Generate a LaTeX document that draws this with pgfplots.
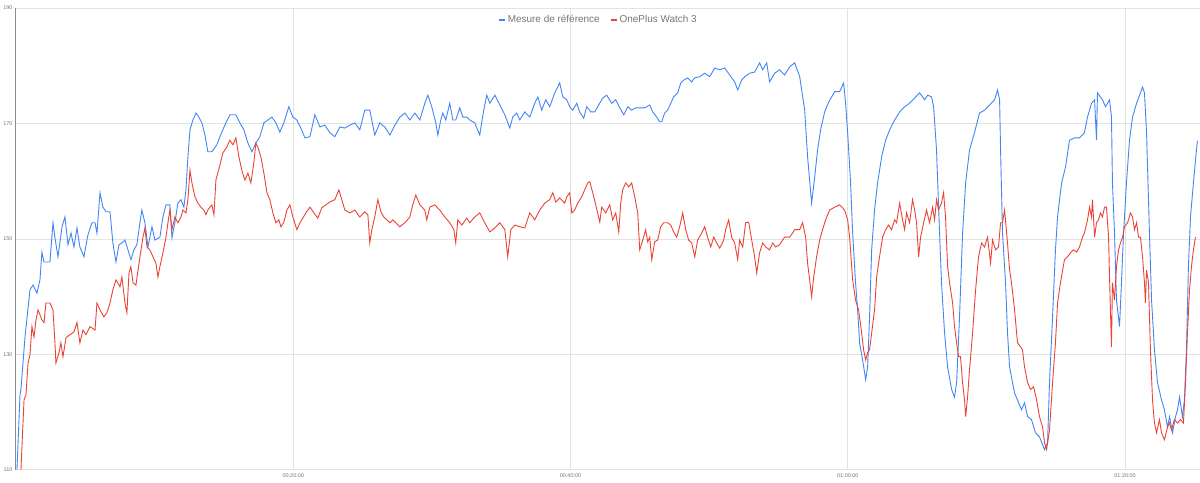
\documentclass[border=0pt]{standalone}
\usepackage{pgfplots}
\usepackage{pgfplotstable}
\pgfplotsset{compat=1.18}
\usepackage{fontspec}
\setmainfont{Liberation Sans}

\definecolor{refblue}{HTML}{4285F4}
\definecolor{watchred}{HTML}{EA4335}
\definecolor{gridgray}{HTML}{E3E3E3}
\definecolor{labelgray}{HTML}{757575}
\definecolor{axisgray}{HTML}{8C8C8C}

% time in minutes, heart rate in bpm
\pgfplotstableread{
t bpm
0.07 110.0
0.29 123.0
0.36 124.0
0.65 133.0
1.01 141.2
1.23 142.0
1.51 140.6
1.73 142.9
1.87 147.7
2.02 146.0
2.45 146.0
2.67 152.8
2.81 150.2
3.03 146.9
3.32 152.1
3.53 153.8
3.75 149.0
3.97 151.0
4.18 148.6
4.40 151.9
4.61 148.6
4.90 146.9
5.19 150.7
5.48 152.8
5.70 152.8
5.84 151.0
6.06 158.0
6.27 155.5
6.49 154.7
6.78 154.7
6.99 149.3
7.21 146.0
7.43 149.0
7.64 149.3
7.86 149.8
8.08 148.1
8.29 146.4
8.51 148.1
8.72 149.0
8.94 152.8
9.08 155.0
9.30 152.8
9.52 148.6
9.81 152.1
10.02 149.8
10.38 150.3
10.60 153.8
10.82 155.9
11.10 155.9
11.25 150.2
11.46 152.8
11.68 156.2
11.90 156.8
12.11 155.5
12.26 158.5
12.40 164.2
12.55 168.9
12.76 170.6
12.98 171.8
13.19 171.1
13.41 170.1
13.63 168.0
13.84 165.1
14.13 165.1
14.49 166.3
14.71 167.7
14.92 168.9
15.14 170.1
15.43 171.5
15.86 171.5
16.15 170.1
16.44 168.9
16.73 166.6
17.02 165.1
17.30 166.6
17.59 167.7
17.88 170.1
18.17 170.6
18.46 171.1
18.75 170.1
19.03 168.5
19.32 170.1
19.68 172.9
19.97 171.1
20.26 170.6
20.55 169.2
20.84 167.5
21.20 167.7
21.56 171.5
21.92 169.4
22.28 169.7
22.64 168.4
23.00 167.7
23.36 169.4
23.72 169.2
24.08 169.7
24.44 170.1
24.80 168.9
25.16 172.3
25.52 172.3
25.88 168.0
26.24 170.1
26.60 169.4
26.97 168.0
27.33 169.7
27.69 171.1
28.05 171.8
28.41 170.6
28.77 171.8
29.13 170.6
29.49 173.5
29.71 174.9
29.99 172.9
30.28 170.1
30.43 168.0
30.64 170.6
30.79 171.8
31.00 170.6
31.29 173.5
31.51 170.6
31.72 170.6
32.01 172.7
32.23 171.1
32.52 171.1
32.73 170.6
33.09 170.1
33.45 168.0
33.74 172.3
33.96 174.9
34.18 173.5
34.54 174.9
34.90 173.2
35.26 171.5
35.62 169.2
35.83 171.1
36.12 171.8
36.34 170.6
36.70 172.0
37.06 171.1
37.42 173.5
37.64 174.6
37.92 172.3
38.21 174.1
38.50 172.9
38.86 175.3
39.22 177.0
39.44 174.6
39.73 174.1
39.94 172.9
40.16 172.3
40.45 173.5
40.66 172.0
40.95 170.9
41.17 172.9
41.46 172.0
41.75 172.0
42.03 173.2
42.32 174.4
42.61 174.9
42.97 173.5
43.26 174.1
43.55 172.7
43.84 171.5
44.13 172.9
44.41 172.3
44.70 172.7
44.99 172.7
45.35 172.7
45.71 173.2
45.93 172.0
46.22 171.1
46.43 170.3
46.58 170.3
46.79 171.8
47.01 172.3
47.23 173.5
47.44 174.6
47.73 175.3
47.95 177.0
48.16 177.5
48.45 177.9
48.74 177.2
48.96 177.9
49.32 178.1
49.68 178.7
50.04 178.1
50.40 179.6
50.76 179.3
51.12 179.6
51.48 178.4
51.84 177.2
52.06 175.8
52.34 177.5
52.56 178.1
52.92 178.7
53.28 178.9
53.64 180.5
53.86 179.3
54.15 180.5
54.36 177.2
54.72 178.7
55.08 179.3
55.44 178.4
55.81 179.8
56.17 180.5
56.53 178.1
56.89 172.3
57.10 164.2
57.39 156.2
57.61 160.7
57.82 165.4
58.04 168.9
58.33 172.0
58.62 173.7
59.05 175.5
59.41 175.5
59.70 177.0
59.84 173.5
59.99 168.4
60.20 159.7
60.35 151.0
60.56 142.4
60.71 137.7
60.85 132.0
61.07 129.0
61.29 125.6
61.43 127.8
61.57 136.5
61.72 148.1
61.93 155.0
62.15 159.7
62.44 164.2
62.73 167.1
63.02 168.9
63.38 170.6
63.74 172.0
64.10 172.9
64.46 173.5
64.82 174.4
65.18 175.3
65.54 174.1
65.76 174.9
66.04 174.6
66.19 172.9
66.40 165.4
66.62 151.0
66.76 142.4
66.98 133.7
67.20 127.8
67.49 123.9
67.70 122.6
67.85 125.1
68.06 136.5
68.28 151.0
68.50 159.7
68.78 165.4
69.14 168.4
69.50 171.8
69.86 172.3
70.23 173.2
70.59 174.1
70.80 175.8
70.95 174.1
71.02 165.4
71.16 151.0
71.38 142.4
71.52 133.7
71.67 127.8
72.03 123.3
72.24 122.1
72.53 120.4
72.75 121.6
72.97 119.2
73.25 118.7
73.54 116.4
73.83 115.7
74.19 113.5
74.41 114.7
74.55 125.1
74.77 136.5
74.98 148.1
75.13 153.8
75.42 159.7
75.71 162.5
75.99 167.1
76.35 167.5
76.71 167.5
77.07 168.4
77.29 171.1
77.58 173.5
77.80 174.1
77.94 167.1
78.01 175.3
78.37 174.1
78.59 172.9
78.88 174.1
79.02 171.1
79.09 159.7
79.24 151.0
79.38 139.4
79.60 134.8
79.74 142.4
79.89 151.0
80.10 159.7
80.32 167.1
80.54 171.1
80.83 173.5
81.11 175.3
81.26 176.3
81.40 175.3
81.55 168.4
81.76 151.0
81.91 139.4
82.12 130.8
82.34 125.1
82.63 122.1
82.84 120.4
83.06 117.4
83.21 119.2
83.42 116.4
83.64 119.2
83.78 120.4
83.93 122.6
84.14 119.2
84.28 122.1
84.43 130.8
84.57 145.2
84.72 153.8
84.93 159.7
85.15 165.4
85.22 167.0
}\reference

\pgfplotstableread{
t bpm
0.36 110.0
0.43 114.0
0.58 122.1
0.72 123.0
0.87 128.5
1.01 129.9
1.15 134.8
1.30 133.0
1.44 136.0
1.59 137.7
1.87 136.0
2.02 135.5
2.16 138.9
2.45 138.9
2.67 137.7
2.81 132.0
2.88 128.5
3.10 130.3
3.24 132.0
3.39 129.6
3.61 132.9
3.89 133.4
4.18 133.9
4.40 135.5
4.61 132.0
4.83 134.2
5.05 133.4
5.34 134.8
5.70 134.2
5.84 138.9
6.06 137.7
6.34 136.5
6.56 137.2
6.78 138.9
6.99 141.2
7.21 142.9
7.50 141.7
7.64 143.4
7.86 138.9
8.00 137.2
8.15 144.1
8.29 145.2
8.44 142.4
8.65 142.0
8.94 146.9
9.16 150.3
9.30 151.9
9.45 148.6
9.66 148.1
9.88 146.9
10.09 145.8
10.24 143.4
10.38 145.2
10.60 147.6
10.82 150.3
10.96 152.8
11.10 155.0
11.25 151.6
11.46 153.8
11.68 152.8
11.90 153.8
12.04 155.0
12.26 154.5
12.40 156.8
12.55 161.9
12.69 159.7
12.91 157.3
13.12 156.2
13.34 155.5
13.55 155.0
13.70 154.2
13.84 155.0
13.99 155.5
14.13 155.9
14.28 154.2
14.42 160.2
14.71 162.8
14.92 164.9
15.21 165.9
15.43 167.1
15.65 166.3
15.86 167.5
16.08 164.2
16.29 161.9
16.51 160.2
16.73 161.4
16.94 159.7
17.16 163.2
17.30 166.6
17.45 165.9
17.66 164.2
17.88 161.4
18.10 158.0
18.31 156.8
18.53 154.5
18.75 152.8
18.96 153.3
19.11 152.1
19.32 152.9
19.54 155.0
19.76 155.9
19.97 153.8
20.26 151.6
20.48 152.8
20.69 153.6
20.91 154.5
21.20 155.5
21.49 154.5
21.77 153.6
22.06 155.4
22.35 155.9
22.64 156.4
23.00 156.8
23.29 158.5
23.50 156.8
23.72 155.0
24.08 154.5
24.44 155.0
24.80 153.8
25.16 154.7
25.38 154.2
25.52 149.3
25.67 151.6
25.88 153.8
26.10 156.8
26.32 154.7
26.53 153.8
26.97 152.8
27.18 153.3
27.40 152.8
27.69 152.1
28.05 152.8
28.41 153.8
28.62 155.9
28.84 157.6
29.13 155.9
29.49 155.0
29.63 153.3
29.85 155.5
30.21 155.9
30.57 155.0
30.93 153.8
31.29 152.8
31.58 151.6
31.72 149.3
31.87 153.3
32.16 152.4
32.52 153.6
32.73 152.8
33.09 153.8
33.45 154.5
33.81 152.8
34.18 151.2
34.54 151.9
34.90 152.8
35.26 151.6
35.47 146.9
35.69 151.6
35.98 152.4
36.34 152.1
36.70 151.9
37.06 154.5
37.42 153.3
37.78 155.0
38.14 156.2
38.50 156.8
38.72 158.0
38.93 156.4
39.22 157.1
39.58 156.2
39.73 157.3
39.94 158.0
40.09 154.5
40.30 155.0
40.52 156.2
40.81 157.3
41.02 158.5
41.24 159.7
41.39 159.9
41.60 158.0
41.82 155.9
42.11 152.9
42.25 155.5
42.54 154.5
42.83 155.9
43.04 153.3
43.26 154.5
43.48 151.2
43.62 156.2
43.76 158.5
43.98 159.7
44.20 159.0
44.41 159.7
44.63 157.3
44.85 154.5
44.99 148.1
45.21 149.8
45.42 151.6
45.57 149.5
45.71 150.3
45.86 146.4
46.07 149.5
46.29 149.8
46.50 152.1
46.72 152.8
47.01 152.8
47.23 152.4
47.44 151.2
47.66 150.3
47.87 152.1
48.09 154.5
48.31 151.6
48.52 149.8
48.74 149.3
48.96 146.9
49.17 149.8
49.46 151.0
49.68 152.1
49.89 150.3
50.11 148.6
50.33 150.3
50.54 149.3
50.76 148.4
51.05 149.8
51.19 151.6
51.41 153.3
51.62 150.3
51.84 149.3
52.06 146.4
52.20 149.8
52.42 148.6
52.63 152.8
52.85 152.9
53.07 149.8
53.28 146.9
53.43 144.1
53.64 147.6
53.86 149.3
54.08 148.6
54.36 148.1
54.58 149.3
54.80 148.6
55.08 149.0
55.44 150.3
55.81 150.3
56.17 151.6
56.53 151.6
56.74 152.8
56.96 150.3
57.10 145.8
57.25 142.9
57.39 140.0
57.54 143.4
57.75 146.9
57.97 149.8
58.18 151.6
58.40 153.3
58.69 155.0
59.05 155.5
59.41 155.9
59.77 155.0
59.99 153.3
60.13 150.3
60.28 145.2
60.35 142.9
60.56 139.4
60.78 137.7
61.00 133.7
61.14 130.8
61.29 129.0
61.43 130.3
61.57 130.8
61.72 133.7
61.93 137.7
62.08 143.4
62.29 146.9
62.51 150.3
62.73 151.6
62.94 152.4
63.16 151.6
63.38 153.3
63.52 152.8
63.74 156.2
63.95 153.3
64.10 151.6
64.24 154.5
64.46 152.8
64.67 156.8
64.82 155.0
64.96 152.8
65.11 146.9
65.25 150.3
65.47 152.8
65.68 155.0
65.90 152.8
66.12 155.5
66.26 153.3
66.40 156.8
66.55 155.0
66.76 156.2
66.91 158.0
67.05 153.8
67.20 145.2
67.34 142.4
67.56 138.9
67.70 134.8
67.85 132.0
67.99 129.6
68.13 129.6
68.28 125.1
68.42 122.1
68.50 119.2
68.64 122.6
68.78 127.3
69.00 133.7
69.22 141.2
69.43 146.9
69.65 149.3
69.86 148.6
70.08 150.3
70.30 145.8
70.44 149.8
70.66 148.1
70.87 148.6
71.02 152.8
71.16 152.8
71.31 155.0
71.52 149.3
71.67 144.6
71.81 142.4
72.03 137.7
72.24 132.0
72.46 131.3
72.60 130.8
72.75 127.8
72.97 125.1
73.18 123.9
73.40 124.4
73.62 122.1
73.83 119.2
74.05 117.4
74.19 114.7
74.34 113.5
74.55 116.9
74.77 125.1
74.98 132.0
75.13 138.9
75.34 142.4
75.63 146.4
75.85 146.9
76.07 147.6
76.28 148.1
76.50 147.7
76.71 148.6
76.93 150.3
77.07 151.0
77.29 153.3
77.44 155.5
77.58 153.8
77.65 156.8
77.80 150.3
77.94 152.8
78.08 153.3
78.23 154.5
78.37 153.8
78.52 155.5
78.66 155.5
78.81 150.3
78.88 143.4
78.95 137.2
79.02 131.3
79.09 142.4
79.24 139.4
79.38 145.2
79.53 148.1
79.67 149.3
79.82 150.3
79.96 152.1
80.18 152.8
80.39 154.5
80.54 153.8
80.68 151.6
80.83 152.8
80.97 150.3
81.11 150.3
81.26 146.9
81.40 142.4
81.47 138.9
81.55 144.6
81.69 142.4
81.83 130.8
81.98 122.1
82.12 118.1
82.27 116.4
82.48 118.7
82.63 116.4
82.84 115.2
83.06 117.4
83.21 118.1
83.35 116.9
83.56 118.7
83.78 118.1
84.00 118.7
84.21 118.1
84.36 125.1
84.50 133.7
84.65 141.2
84.79 145.2
84.93 148.1
85.08 150.3
}\watch

\begin{document}
\begin{tikzpicture}
\begin{axis}[
    scale only axis,
    width=1184bp, height=462bp,
    xmin=0, xmax=85.37,
    ymin=110, ymax=190,
    xtick={20,40,60,80},
    xticklabels={00:20:00,00:40:00,01:00:00,01:20:00},
    ytick={110,130,150,170,190},
    grid=major,
    major grid style={gridgray, line width=0.8bp},
    axis x line*=bottom,
    axis y line*=left,
    x axis line style={gridgray, line width=1bp, -},
    y axis line style={axisgray, line width=1bp, -},
    major tick length=0pt,
    tick label style={font=\fontsize{5.5}{6}\selectfont, text=labelgray},
    /pgf/number format/assume math mode=true,
    legend columns=2,
    legend style={
      at={(0.492,0.974)}, anchor=center,
      draw=none, fill=none,
      font=\fontsize{10}{12}\selectfont, text=labelgray,
      /tikz/every even column/.append style={column sep=8bp}
    },
    legend image code/.code={\draw[line width=2bp] (0bp,0bp) -- (6bp,0bp);},
]
\addplot[refblue, line width=0.9bp, no marks] table {\reference};
\addlegendentry{Mesure de référence}

\addplot[watchred, line width=0.9bp, no marks] table {\watch};
\addlegendentry{OnePlus Watch 3}
\end{axis}
\path[use as bounding box] ([xshift=-16bp,yshift=-13bp]current axis.south west)
  rectangle ([yshift=8bp]current axis.north east);
\end{tikzpicture}
\end{document}
